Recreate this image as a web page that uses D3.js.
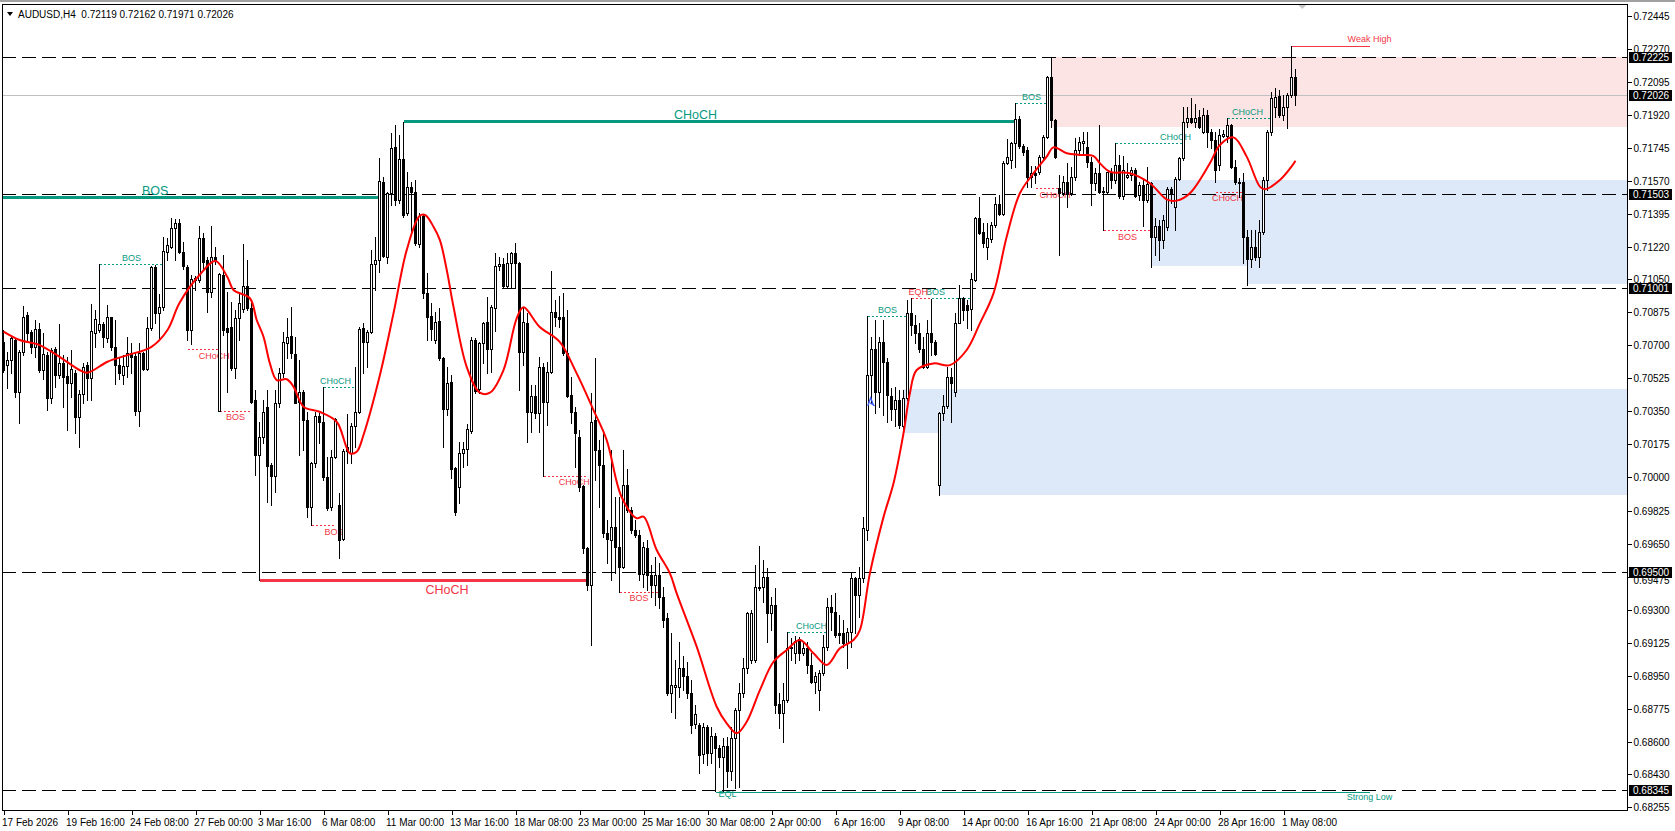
<!DOCTYPE html>
<html><head><meta charset="utf-8">
<script src="https://cdn.jsdelivr.net/npm/d3@7"></script>
<style>
body{margin:0;background:#fff;}
svg{display:block;font-family:"Liberation Sans",Arial,sans-serif;}
</style>
</head><body>
<svg id="c" width="1675" height="831"></svg>
<script>
const symbol = "AUDUSD", timeframe = "H4";

const open = [
0.70719,0.70595,0.70622,0.70728,0.70454,0.70666,0.70860,0.70772,0.70692,0.70784,
0.70569,0.70648,0.70419,0.70678,0.70542,0.70604,0.70537,0.70502,0.70555,0.70322,
0.70442,0.70595,0.70525,0.70767,0.70781,0.70812,0.70737,0.70848,0.70689,0.70595,
0.70542,0.70590,0.70661,0.70645,0.70354,0.70661,0.70572,0.70790,0.71113,0.70869,
0.70901,0.71195,0.71222,0.71319,0.71346,0.71192,0.71113,0.70781,0.71045,0.71045,
0.71266,0.71151,0.70984,0.71165,0.70354,0.71072,0.70790,0.70799,0.70578,0.70843,
0.70891,0.71014,0.70896,0.70410,0.70119,0.70216,0.70372,0.70066,0.70008,0.70393,
0.70552,0.70714,0.70749,0.70652,0.70402,0.70455,0.70305,0.69846,0.70075,0.70326,
0.70296,0.70005,0.69842,0.70110,0.69854,0.69673,0.70142,0.70128,0.70273,0.70349,
0.70790,0.70719,0.70772,0.71131,0.71152,0.71567,0.71169,0.71508,0.71748,0.71469,
0.71685,0.71400,0.71537,0.71514,0.71236,0.71385,0.70979,0.70855,0.70728,0.70831,
0.70631,0.70361,0.70503,0.70048,0.69951,0.70131,0.70149,0.70248,0.70728,0.70470,
0.70710,0.70825,0.70678,0.70895,0.71119,0.71130,0.71014,0.71134,0.71187,0.71134,
0.70666,0.70816,0.70348,0.70431,0.70339,0.70586,0.70401,0.70560,0.70878,0.70848,
0.70848,0.70657,0.70436,0.70348,0.70216,0.69955,0.69624,0.69430,0.70304,0.70145,
0.70066,0.69704,0.69669,0.69736,0.69633,0.69527,0.69960,0.69827,0.69722,0.69695,
0.69489,0.69624,0.69483,0.69430,0.69483,0.69369,0.69254,0.68857,0.68893,0.68893,
0.68990,0.68946,0.68861,0.68695,0.68690,0.68536,0.68677,0.68543,0.68631,0.68566,
0.68522,0.68578,0.68448,0.68619,0.68766,0.68857,0.68993,0.69034,0.69034,0.69413,
0.69419,0.69472,0.69281,0.69325,0.68801,0.68755,0.68822,0.69096,0.69069,0.69143,
0.69073,0.69096,0.69007,0.68919,0.68875,0.68963,0.69101,0.69316,0.69290,0.69175,
0.69175,0.69122,0.69179,0.69466,0.69378,0.69466,0.69722,0.70543,0.70679,0.70455,
0.70719,0.70613,0.70432,0.70361,0.70411,0.70270,0.70420,0.70870,0.70808,0.70764,
0.70679,0.70584,0.70767,0.70720,0.69961,0.70344,0.70376,0.70531,0.70450,0.70820,
0.70949,0.70914,0.70891,0.71046,0.71373,0.71302,0.71219,0.71262,0.71337,0.71449,
0.71396,0.71667,0.71682,0.71770,0.71897,0.71756,0.71735,0.71593,0.71611,0.71620,
0.71696,0.71805,0.72123,0.71893,0.71532,0.71505,0.71567,0.71505,0.71593,0.71735,
0.71773,0.71749,0.71673,0.71562,0.71611,0.71519,0.71514,0.71615,0.71576,0.71655,
0.71491,0.71593,0.71602,0.71629,0.71496,0.71549,0.71470,0.71558,0.71272,0.71332,
0.71255,0.71329,0.71526,0.71431,0.71579,0.71690,0.71885,0.71902,0.71885,0.71908,
0.71832,0.71920,0.71832,0.71788,0.71655,0.71809,0.71809,0.71867,0.71646,0.71567,
0.71567,0.71276,0.71156,0.71223,0.71170,0.71302,0.71576,0.71832,0.71964,0.72021,
0.71920,0.71960,0.72026,0.72119];

const high = [
0.70781,0.70666,0.70745,0.70737,0.70675,0.70908,0.70878,0.70781,0.70834,0.70816,
0.70763,0.70666,0.70684,0.70692,0.70811,0.70648,0.70639,0.70675,0.70569,0.70463,
0.70604,0.70613,0.70918,0.70887,0.71130,0.70825,0.70913,0.70851,0.70834,0.70639,
0.70648,0.70745,0.70710,0.70666,0.70710,0.70666,0.70851,0.71120,0.71125,0.70971,
0.71275,0.71266,0.71372,0.71367,0.71367,0.71248,0.71125,0.71072,0.71067,0.71331,
0.71293,0.71169,0.71331,0.71222,0.71084,0.71178,0.70984,0.70931,0.70887,0.70984,
0.71236,0.71152,0.70940,0.70463,0.70296,0.70410,0.70463,0.70075,0.70463,0.70578,
0.70772,0.70843,0.70901,0.70746,0.70622,0.70463,0.70349,0.70084,0.70349,0.70340,
0.70481,0.70110,0.70146,0.70313,0.69916,0.70149,0.70336,0.70287,0.70583,0.70799,
0.70816,0.70781,0.71205,0.71275,0.71690,0.71593,0.71514,0.71822,0.71867,0.71814,
0.71884,0.71619,0.71567,0.71575,0.71399,0.71390,0.71081,0.70926,0.70878,0.70896,
0.70640,0.70587,0.70542,0.70057,0.70189,0.70189,0.70283,0.70742,0.70736,0.70719,
0.70825,0.70957,0.70913,0.71190,0.71165,0.71160,0.71187,0.71195,0.71239,0.71142,
0.70895,0.70869,0.70489,0.70489,0.70639,0.70604,0.70613,0.71095,0.70939,0.70961,
0.70978,0.70886,0.70533,0.70375,0.70251,0.69960,0.69633,0.70445,0.70630,0.70198,
0.70251,0.69775,0.70145,0.69898,0.69898,0.70145,0.70043,0.69845,0.69775,0.69722,
0.69660,0.69669,0.69536,0.69580,0.69545,0.69422,0.69280,0.69175,0.69034,0.69131,
0.69052,0.69025,0.68928,0.68796,0.68698,0.68698,0.68690,0.68681,0.68646,0.68584,
0.68619,0.68628,0.68681,0.68778,0.68910,0.69043,0.69290,0.69299,0.69537,0.69637,
0.69563,0.69519,0.69369,0.69413,0.68857,0.68910,0.69184,0.69149,0.69161,0.69157,
0.69131,0.69131,0.69069,0.68972,0.68981,0.69166,0.69360,0.69378,0.69387,0.69272,
0.69246,0.69202,0.69493,0.69475,0.69528,0.69789,0.70855,0.70746,0.70834,0.70746,
0.70834,0.70631,0.70473,0.70481,0.70464,0.70464,0.70940,0.70949,0.70861,0.70817,
0.70746,0.70834,0.70944,0.70729,0.70349,0.70437,0.70584,0.70578,0.70870,0.71020,
0.70958,0.70940,0.71082,0.71378,0.71484,0.71350,0.71346,0.71355,0.71487,0.71496,
0.71678,0.71791,0.71779,0.71985,0.71915,0.71766,0.71752,0.71650,0.71650,0.71708,
0.71814,0.72126,0.72225,0.71897,0.71602,0.71597,0.71664,0.71646,0.71796,0.71805,
0.71832,0.71832,0.71699,0.71638,0.71867,0.71540,0.71620,0.71638,0.71770,0.71708,
0.71703,0.71664,0.71646,0.71638,0.71567,0.71576,0.71646,0.71567,0.71373,0.71364,
0.71390,0.71540,0.71537,0.71593,0.71699,0.71964,0.71964,0.72008,0.71978,0.71946,
0.71955,0.71946,0.71844,0.71832,0.71844,0.71841,0.71902,0.71872,0.71682,0.71585,
0.71611,0.71311,0.71311,0.71311,0.71364,0.71593,0.71841,0.72043,0.72061,0.72052,
0.72026,0.72034,0.72285,0.72162];

const low = [
0.70560,0.70472,0.70551,0.70428,0.70286,0.70648,0.70728,0.70657,0.70639,0.70560,
0.70519,0.70357,0.70392,0.70481,0.70525,0.70375,0.70251,0.70428,0.70234,0.70163,
0.70392,0.70410,0.70410,0.70692,0.70772,0.70692,0.70719,0.70675,0.70495,0.70519,
0.70493,0.70534,0.70551,0.70331,0.70272,0.70569,0.70569,0.70781,0.70816,0.70737,
0.70887,0.71151,0.71213,0.71151,0.71187,0.71102,0.70728,0.70707,0.70993,0.71037,
0.71098,0.70878,0.70957,0.71130,0.70354,0.70755,0.70455,0.70569,0.70525,0.70728,
0.70878,0.70887,0.70393,0.70013,0.69457,0.70181,0.69872,0.69854,0.69925,0.70375,
0.70534,0.70631,0.70631,0.70393,0.70119,0.70146,0.69793,0.69749,0.70057,0.70181,
0.69987,0.69828,0.69828,0.70102,0.69572,0.69669,0.70075,0.70075,0.70163,0.70340,
0.70552,0.70587,0.70763,0.70993,0.71090,0.71169,0.71134,0.71443,0.71443,0.71455,
0.71381,0.71390,0.71302,0.71231,0.71222,0.70949,0.70728,0.70728,0.70711,0.70622,
0.70163,0.70331,0.69995,0.69801,0.69866,0.70057,0.70066,0.70233,0.70449,0.70449,
0.70604,0.70551,0.70560,0.70775,0.71098,0.71001,0.71001,0.71001,0.71001,0.70463,
0.70595,0.70189,0.70242,0.70313,0.70242,0.70008,0.70278,0.70551,0.70802,0.70798,
0.70648,0.70428,0.70290,0.70057,0.69930,0.69598,0.69404,0.69113,0.69986,0.69845,
0.69686,0.69545,0.69457,0.69492,0.69395,0.69519,0.69819,0.69704,0.69686,0.69457,
0.69422,0.69404,0.69369,0.69324,0.69307,0.69210,0.68849,0.68760,0.68725,0.68840,
0.68875,0.68831,0.68646,0.68672,0.68434,0.68487,0.68478,0.68487,0.68342,0.68469,
0.68342,0.68363,0.68398,0.68354,0.68363,0.68840,0.68963,0.69016,0.69025,0.69405,
0.69343,0.69131,0.69193,0.68751,0.68672,0.68601,0.68813,0.69034,0.69016,0.69034,
0.69060,0.68963,0.68910,0.68861,0.68769,0.68954,0.69087,0.69193,0.69157,0.69122,
0.69104,0.68990,0.69104,0.69175,0.69263,0.69449,0.69669,0.70393,0.70340,0.70375,
0.70331,0.70296,0.70305,0.70270,0.70261,0.70234,0.70411,0.70755,0.70711,0.70667,
0.70578,0.70578,0.70649,0.70649,0.69908,0.70305,0.70367,0.70296,0.70432,0.70817,
0.70834,0.70790,0.70781,0.71043,0.71290,0.71223,0.71156,0.71249,0.71329,0.71390,
0.71390,0.71660,0.71637,0.71646,0.71743,0.71708,0.71540,0.71540,0.71558,0.71607,
0.71682,0.71796,0.71855,0.71690,0.71179,0.71496,0.71434,0.71496,0.71576,0.71708,
0.71708,0.71646,0.71443,0.71523,0.71505,0.71311,0.71505,0.71532,0.71558,0.71479,
0.71473,0.71585,0.71576,0.71487,0.71470,0.71332,0.71461,0.71117,0.71179,0.71152,
0.71214,0.71311,0.71452,0.71311,0.71576,0.71682,0.71858,0.71876,0.71855,0.71849,
0.71823,0.71752,0.71743,0.71567,0.71629,0.71805,0.71779,0.71638,0.71555,0.71487,
0.71135,0.71020,0.71117,0.71152,0.71117,0.71290,0.71523,0.71814,0.71911,0.71911,
0.71893,0.71849,0.72017,0.71971];

const close = [
0.70569,0.70622,0.70737,0.70454,0.70666,0.70851,0.70763,0.70692,0.70784,0.70569,
0.70654,0.70419,0.70675,0.70542,0.70608,0.70534,0.70502,0.70572,0.70322,0.70442,
0.70587,0.70525,0.70774,0.70837,0.70811,0.70742,0.70848,0.70689,0.70595,0.70551,
0.70590,0.70661,0.70639,0.70354,0.70657,0.70572,0.70790,0.71113,0.70869,0.70904,
0.71199,0.71231,0.71319,0.71346,0.71192,0.71120,0.70781,0.71049,0.71054,0.71266,
0.71143,0.70984,0.71165,0.71151,0.71077,0.70781,0.70772,0.70578,0.70843,0.70922,
0.71014,0.70896,0.70402,0.70119,0.70216,0.70349,0.70061,0.70008,0.70393,0.70552,
0.70719,0.70746,0.70658,0.70396,0.70455,0.70305,0.69846,0.70075,0.70326,0.70296,
0.70001,0.69837,0.70110,0.70308,0.69669,0.70142,0.70160,0.70273,0.70349,0.70785,
0.70719,0.70772,0.71131,0.71152,0.71572,0.71173,0.71508,0.71743,0.71469,0.71685,
0.71390,0.71537,0.71514,0.71240,0.71385,0.70975,0.70852,0.70785,0.70825,0.70631,
0.70361,0.70502,0.70043,0.69819,0.70131,0.70149,0.70255,0.70728,0.70459,0.70710,
0.70816,0.70678,0.70901,0.71119,0.71130,0.71014,0.71134,0.71187,0.71134,0.70666,
0.70825,0.70348,0.70431,0.70339,0.70586,0.70401,0.70560,0.70878,0.70848,0.70841,
0.70657,0.70431,0.70348,0.70233,0.69951,0.69624,0.69430,0.70295,0.70145,0.70066,
0.69704,0.69672,0.69736,0.69633,0.69527,0.69960,0.69827,0.69722,0.69695,0.69489,
0.69633,0.69483,0.69430,0.69483,0.69369,0.69245,0.68857,0.68901,0.68901,0.68990,
0.68946,0.68857,0.68690,0.68748,0.68531,0.68677,0.68543,0.68631,0.68566,0.68522,
0.68578,0.68443,0.68619,0.68766,0.68857,0.68993,0.69281,0.69284,0.69419,0.69422,
0.69472,0.69281,0.69325,0.68796,0.68751,0.68822,0.69096,0.69104,0.69136,0.69069,
0.69096,0.69007,0.68919,0.68946,0.68963,0.69101,0.69316,0.69290,0.69166,0.69166,
0.69122,0.69179,0.69466,0.69378,0.69466,0.69731,0.70543,0.70679,0.70455,0.70719,
0.70613,0.70437,0.70361,0.70411,0.70278,0.70420,0.70870,0.70808,0.70764,0.70679,
0.70584,0.70767,0.70720,0.70654,0.70344,0.70379,0.70531,0.70499,0.70820,0.70949,
0.70887,0.70887,0.71050,0.71373,0.71293,0.71244,0.71267,0.71337,0.71449,0.71396,
0.71667,0.71696,0.71770,0.71897,0.71756,0.71726,0.71593,0.71611,0.71602,0.71696,
0.71805,0.72123,0.71893,0.71699,0.71505,0.71567,0.71502,0.71593,0.71735,0.71779,
0.71784,0.71673,0.71562,0.71611,0.71514,0.71514,0.71615,0.71576,0.71655,0.71491,
0.71629,0.71602,0.71629,0.71491,0.71549,0.71470,0.71555,0.71276,0.71332,0.71255,
0.71364,0.71526,0.71509,0.71579,0.71690,0.71885,0.71902,0.71885,0.71902,0.71858,
0.71920,0.71832,0.71788,0.71629,0.71814,0.71819,0.71867,0.71643,0.71567,0.71558,
0.71276,0.71156,0.71223,0.71170,0.71302,0.71576,0.71832,0.72008,0.72017,0.71920,
0.71964,0.72026,0.72123,0.72026];

// moving average: bar position, value
const maIdx = [0,4,9,14,19,21,26,31,37,41,44,49,53,56,57.5,61.6,63.3,65,66.6,68.3,70.8,72.5,75,79,83.3,86.6,88.3,90,94,97.5,100.8,104,105.4,107.5,109.1,110.8,112.5,115.8,119.1,121.6,125,128.3,130,134,139,143.3,147.5,150.8,154.5,158.3,160,163.3,166.6,168.3,173.3,178.3,180.8,183.3,185.8,189.1,192.5,195.8,199.1,202.5,205.8,209.1,212.5,214.1,216.6,220,222.5,225,226.6,228.3,232.5,236.6,240.8,244.1,247.5,250.8,254.1,257.5,260.8,262.5,265.8,269.1,272.5,274.1,276.6,281.6,286.6,290.8,293.3,296.6,301.6,304.1,307.5,310.8,314.1,315.4,319.1,322,323];
const maVal = [0.70772,0.70728,0.70701,0.70639,0.70569,0.70555,0.70613,0.70648,0.70692,0.70781,0.70924,0.71072,0.71146,0.71060,0.70993,0.70949,0.70834,0.70745,0.70604,0.70516,0.70520,0.70481,0.70375,0.70348,0.70295,0.70128,0.70136,0.70225,0.70533,0.70869,0.71204,0.71385,0.71390,0.71328,0.71257,0.71100,0.70904,0.70586,0.70449,0.70449,0.70569,0.70843,0.70901,0.70798,0.70719,0.70551,0.70357,0.70198,0.69898,0.69784,0.69792,0.69616,0.69492,0.69386,0.69104,0.68786,0.68698,0.68645,0.68706,0.68874,0.69024,0.69086,0.69139,0.69069,0.69007,0.69095,0.69139,0.69192,0.69492,0.69790,0.69969,0.70234,0.70446,0.70569,0.70604,0.70595,0.70675,0.70816,0.70975,0.71275,0.71505,0.71611,0.71699,0.71748,0.71717,0.71708,0.71702,0.71664,0.71619,0.71611,0.71558,0.71473,0.71466,0.71505,0.71664,0.71761,0.71801,0.71699,0.71540,0.71526,0.71575,0.71646,0.71677];

// price scale tick labels (as printed) and time labels (every 16 bars)
const priceTicks = [0.72445,0.72270,0.72095,0.71920,0.71745,0.71570,0.71395,0.71220,0.71050,0.70875,0.70700,0.70525,0.70350,0.70175,0.70000,0.69825,0.69650,0.69475,0.69300,0.69125,0.68950,0.68775,0.68600,0.68430,0.68255];
const timeTickIdx = [0,16,32,48,64,80,96,112,128,144,160,176,192,208,224,240,256,272,288,304,320];
const timeLabels = ["17 Feb 2026","19 Feb 16:00","24 Feb 08:00","27 Feb 00:00","3 Mar 16:00","6 Mar 08:00","11 Mar 00:00","13 Mar 16:00","18 Mar 08:00","23 Mar 00:00","25 Mar 16:00","30 Mar 08:00","2 Apr 00:00","6 Apr 16:00","9 Apr 08:00","14 Apr 00:00","16 Apr 16:00","21 Apr 08:00","24 Apr 00:00","28 Apr 16:00","1 May 08:00"];

// horizontal levels with price tags
const levels = [0.72225,0.71503,0.71001,0.69500,0.68345];

// supply / demand zones
const zoneKind = ["supply","demand","demand","demand","demand"];
const zoneStart = [262,287,311,225,234];
const zoneTop = [0.72225,0.71576,0.71576,0.70469,0.70469];
const zoneBottom = [0.71858,0.71120,0.71025,0.70234,0.69908];

// major structure lines
const bigKind = ["bull","bull","bear"];
const bigText = ["BOS","CHoCH","CHoCH"];
const bigPrice = [0.71482,0.71884,0.69453];
const bigFrom = [-40,100,64];
const bigTo = [94,253,146];
const bigLabelAt = [37.9,173,110.9];

// minor structure lines
const annKind = ["bull","bull","bull","bull","bull","bull","bull","bull","bear","bear","bear","bear","bear","bear","bear","bear","bear"];
const annText = ["BOS","CHoCH","CHoCH","BOS","BOS","BOS","CHoCH","CHoCH","CHoCH","BOS","BOS","CHoCH","BOS","CHoCH","BOS","CHoCH","EQH"];
const annPrice = [0.71130,0.70481,0.69183,0.70855,0.70952,0.71981,0.71770,0.71902,0.70680,0.70353,0.69748,0.70008,0.69395,0.71531,0.71310,0.71513,0.70952];
const annFrom = [24,80,196,216,227,253,278,306,46,54,77,135,154,258,275,303,227];
const annTo = [40,88,206,226,242,261,295,317,53.5,62,83,146,163.6,264,287,310,232];
const annLabelAt = [32,83,202,221,233,257,293,311,52.7,58,82.6,142.7,158.9,262.9,281,306,228.7];

// liquidity markers
const weakHigh = {from:322, to:341.5, price:0.72285, text:"Weak High"};
const strongLow = {from:178, to:341.5, price:0.68342, text:"Strong Low"};
const eql = {at:181, price:0.68342, text:"EQL"};
const tradeMark = {at:216.8, price:0.70401};
const currentPrice = close[close.length-1];

// ---------- drawing ----------
const TEAL = "#089981", RED = "#f23645";
const svg = d3.select("#c");
const L = 2, T = 4, R = 1627, B = 810;
const n = open.length;
const x = d3.scaleLinear().domain([0, n-1]).range([3.5, 3.5 + 4*(n-1)]);
const y = d3.scaleLinear().domain([0.68239, 0.72502]).range([B, T+1]);
const fmt = d3.format(".5f");
const ry = v => Math.round(y(v));

svg.append("defs").append("clipPath").attr("id","clip")
  .append("rect").attr("x",L).attr("y",T).attr("width",R-L).attr("height",B-T);

// window top strip
svg.append("rect").attr("x",0).attr("y",0).attr("width",1675).attr("height",2).attr("fill","#a0a0a0");

const g = svg.append("g").attr("clip-path","url(#clip)").attr("shape-rendering","crispEdges");

// zones
g.selectAll("rect.zone").data(d3.range(zoneKind.length)).join("rect")
  .attr("x", i => x(zoneStart[i]) - 0.5)
  .attr("y", i => ry(zoneTop[i]))
  .attr("width", i => R - x(zoneStart[i]))
  .attr("height", i => ry(zoneBottom[i]) - ry(zoneTop[i]))
  .attr("fill", i => zoneKind[i] === "supply" ? "#fce4e4" : "#dde9f9");

// current price line
g.append("line").attr("x1",L).attr("x2",R).attr("y1",ry(currentPrice)+0.5).attr("y2",ry(currentPrice)+0.5)
  .attr("stroke","#c0c0c0").attr("stroke-width",1);

// levels
g.selectAll("line.lvl").data(levels).join("line")
  .attr("x1",L).attr("x2",R).attr("y1",d=>ry(d)+0.5).attr("y2",d=>ry(d)+0.5)
  .attr("stroke","#000").attr("stroke-width",1).attr("stroke-dasharray","14,6");

// minor structure
const ann = d3.range(annKind.length);
g.selectAll("line.ann").data(ann).join("line")
  .attr("x1", i => x(annFrom[i])).attr("x2", i => x(annTo[i]))
  .attr("y1", i => ry(annPrice[i])+0.5).attr("y2", i => ry(annPrice[i])+0.5)
  .attr("stroke", i => annKind[i]==="bull"?TEAL:RED).attr("stroke-width",1).attr("stroke-dasharray","2,2");
g.append("line").attr("x1",x(annTo[8])+0.5).attr("x2",x(annTo[8])+0.5)
  .attr("y1",ry(annPrice[8])).attr("y2",ry(annPrice[9]))
  .attr("stroke",RED).attr("stroke-dasharray","2,2");
g.selectAll("text.ann").data(ann).join("text")
  .attr("x", i => x(annLabelAt[i])).attr("y", i => {
    const up = annKind[i]==="bull" || annText[i]==="EQH";
    return y(annPrice[i]) + (up ? -3 : 9.5);
  })
  .attr("text-anchor","middle").attr("font-size",9)
  .attr("fill", i => annKind[i]==="bull"?TEAL:RED).text(i => annText[i]);

// major structure
const big = d3.range(bigKind.length);
g.selectAll("line.big").data(big).join("line")
  .attr("x1", i => x(bigFrom[i])).attr("x2", i => x(bigTo[i]))
  .attr("y1", i => y(bigPrice[i])).attr("y2", i => y(bigPrice[i]))
  .attr("stroke", i => bigKind[i]==="bull"?TEAL:RED).attr("stroke-width",3);
g.selectAll("text.big").data(big).join("text")
  .attr("x", i => x(bigLabelAt[i])).attr("y", i => y(bigPrice[i]) + (bigKind[i]==="bull" ? -3 : 13))
  .attr("text-anchor","middle").attr("font-size",12.5)
  .attr("fill", i => bigKind[i]==="bull"?TEAL:RED).text(i => bigText[i]);

// weak high / strong low
g.append("line").attr("x1",x(weakHigh.from)).attr("x2",x(weakHigh.to))
  .attr("y1",ry(weakHigh.price)+0.5).attr("y2",ry(weakHigh.price)+0.5).attr("stroke",RED);
g.append("text").attr("x",x(weakHigh.to)).attr("y",y(weakHigh.price)-3.5).attr("text-anchor","middle")
  .attr("font-size",9).attr("fill",RED).text(weakHigh.text);
g.append("line").attr("x1",x(strongLow.from)).attr("x2",x(strongLow.to))
  .attr("y1",ry(strongLow.price)+1.5).attr("y2",ry(strongLow.price)+1.5).attr("stroke",TEAL);
g.append("text").attr("x",x(strongLow.to)).attr("y",y(strongLow.price)+9).attr("text-anchor","middle")
  .attr("font-size",9).attr("fill",TEAL).text(strongLow.text);
g.append("text").attr("x",x(eql.at)).attr("y",y(eql.price)+6.5).attr("text-anchor","middle")
  .attr("font-size",9).attr("fill",TEAL).text(eql.text);

// candles
const bars = d3.range(n);
g.selectAll("rect.wick").data(bars).join("rect")
  .attr("x", i => x(i)-0.5).attr("width",1)
  .attr("y", i => ry(high[i])).attr("height", i => Math.max(1, ry(low[i]) - ry(high[i]) + 1))
  .attr("fill","#000");
g.selectAll("rect.body").data(bars).join("rect")
  .each(function(i){
    const top = ry(Math.max(open[i],close[i])), bot = ry(Math.min(open[i],close[i]));
    const s = d3.select(this);
    if (close[i] >= open[i]) {
      s.attr("x", x(i)-1).attr("width",2).attr("y", top+0.5).attr("height", Math.max(0, bot-top))
       .attr("fill","#fff").attr("stroke","#000").attr("stroke-width",1);
    } else {
      s.attr("x", x(i)-1.5).attr("width",3).attr("y", top).attr("height", Math.max(1, bot-top+1))
       .attr("fill","#000");
    }
  });

// moving average
const maPts = maIdx.map((d,i)=>[d, maVal[i]]);
svg.append("g").attr("clip-path","url(#clip)").append("path")
  .attr("d", d3.line().x(d=>x(d[0])).y(d=>y(d[1])).curve(d3.curveCatmullRom.alpha(0.5))(maPts))
  .attr("fill","none").attr("stroke","#ff0000").attr("stroke-width",2);

// small blue trade marker
svg.append("path").attr("transform",`translate(${x(tradeMark.at)},${y(tradeMark.price)})`)
  .attr("d","M-3,4 L0,-4 L3,4 M-1,1 L4,4").attr("fill","none").attr("stroke","#3b5bff").attr("stroke-width",1.2);

// shift marker
svg.append("path").attr("d",`M${x(324.7)-4},5 L${x(324.7)+4},5 L${x(324.7)},9 Z`).attr("fill","#c8c8c8");

// frame
svg.append("rect").attr("x",L+0.5).attr("y",T+0.5).attr("width",R-L).attr("height",B-T)
  .attr("fill","none").attr("stroke","#000").attr("stroke-width",1).attr("shape-rendering","crispEdges");

// price axis
const tags = levels.concat([currentPrice]);
const ya = svg.append("g").attr("transform",`translate(${R+0.5},0)`)
  .call(d3.axisRight(y).tickValues(priceTicks).tickFormat(fmt).tickSize(4).tickPadding(2));
ya.select(".domain").remove();
ya.selectAll("line").attr("stroke","#000").attr("shape-rendering","crispEdges");
ya.selectAll("text").attr("font-family","Liberation Sans, Arial, sans-serif").attr("font-size",10).attr("fill","#000")
  .attr("dy", function(d){
    // keep a label that sits under a price tag just clear of the tag text
    let shift = 0;
    tags.forEach(t => { const dd = y(d) - y(t); if (Math.abs(dd) < 8.5) shift = (dd >= 0 ? 8.5 - dd : -8.5 - dd); });
    return (shift + 3.5) + "px";
  });

// price tags
const tg = svg.append("g");
tg.selectAll("rect").data(tags).join("rect")
  .attr("x",R+2).attr("width",43).attr("y",d=>ry(d)-5).attr("height",11).attr("fill","#000");
tg.selectAll("text").data(tags).join("text")
  .attr("x",R+6).attr("y",d=>ry(d)+4).attr("font-size",10).attr("fill","#fff").text(fmt);

// time axis
const xa = svg.append("g").attr("transform",`translate(0,${B+0.5})`)
  .call(d3.axisBottom(x).tickValues(timeTickIdx).tickFormat((d,i)=>timeLabels[i]).tickSize(4).tickPadding(4));
xa.select(".domain").remove();
xa.selectAll("line").attr("stroke","#000").attr("shape-rendering","crispEdges");
xa.selectAll("text").attr("text-anchor","start").attr("dx","-2").attr("font-family","Liberation Sans, Arial, sans-serif").attr("font-size",10).attr("fill","#000");

// title
svg.append("path").attr("d","M7,12 L13,12 L10,16 Z").attr("fill","#000");
svg.append("text").attr("x",18).attr("y",18).attr("font-size",10).style("white-space","pre")
  .text(`${symbol},${timeframe}  ${fmt(open[n-1])} ${fmt(high[n-1])} ${fmt(low[n-1])} ${fmt(close[n-1])}`);
</script>
</body></html>
